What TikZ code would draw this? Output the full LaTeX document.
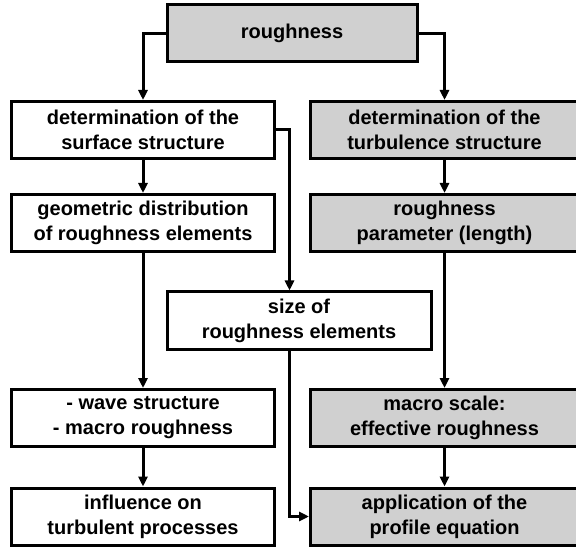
\documentclass[tikz,border=0pt]{standalone}
\usepackage{fontspec}
\setmainfont{Liberation Sans}
\usepackage{tikz}
\usetikzlibrary{arrows.meta}
\usepackage{xcolor}
\definecolor{boxgray}{RGB}{208,208,208}

\begin{document}
\begin{tikzpicture}[
    x=1pt, y=-1pt,
    font=\fontsize{20}{25}\selectfont\bfseries,
    flow_box/.style={draw, line width=3pt, rectangle, fill=white, minimum width=263pt,
                     minimum height=57pt, inner sep=0pt, align=center},
    gray_box/.style={flow_box, fill=boxgray, minimum width=268pt},
    link/.style={line width=3pt, -{Triangle[length=10pt, width=9pt]}}
]
\clip (0,0) rectangle (576,548);

% Top
\node[gray_box, minimum width=250pt] (rough) at (292, 33.5) {roughness};

% Left column: surface
\node[flow_box] (surf) at (143, 130) {determination of the\\surface structure};
\node[flow_box] (geom) at (143, 223) {geometric distribution\\of roughness elements};
\node[flow_box] (wave) at (143, 418) {- wave structure\\- macro roughness};
\node[flow_box] (infl) at (143, 516.5) {influence on\\turbulent processes};

% Middle
\node[flow_box, minimum width=264pt] (size) at (299, 320.5) {size of\\roughness elements};
\coordinate (mid) at (289.5, 0);

% Right column: turbulence
\node[gray_box] (turb) at (444.5, 130) {determination of the\\turbulence structure};
\node[gray_box] (param) at (444.5, 223) {roughness\\parameter (length)};
\node[gray_box] (macro) at (444.5, 418) {macro scale:\\effective roughness};
\node[gray_box] (prof) at (444.5, 516.5) {application of the\\profile equation};

% Connectors
\draw[link] (rough.west) -| (surf.north);
\draw[link] (rough.east) -| (turb.north);
\draw[link] (surf) -- (geom);
\draw[link] (geom) -- (wave);
\draw[link] (wave) -- (infl);
\draw[link] (turb) -- (param);
\draw[link] (param) -- (macro);
\draw[link] (macro) -- (prof);
\draw[link] (surf.east) -| (mid |- size.north);
\draw[link] (mid |- size.south) |- (prof.west);

\end{tikzpicture}
\end{document}
